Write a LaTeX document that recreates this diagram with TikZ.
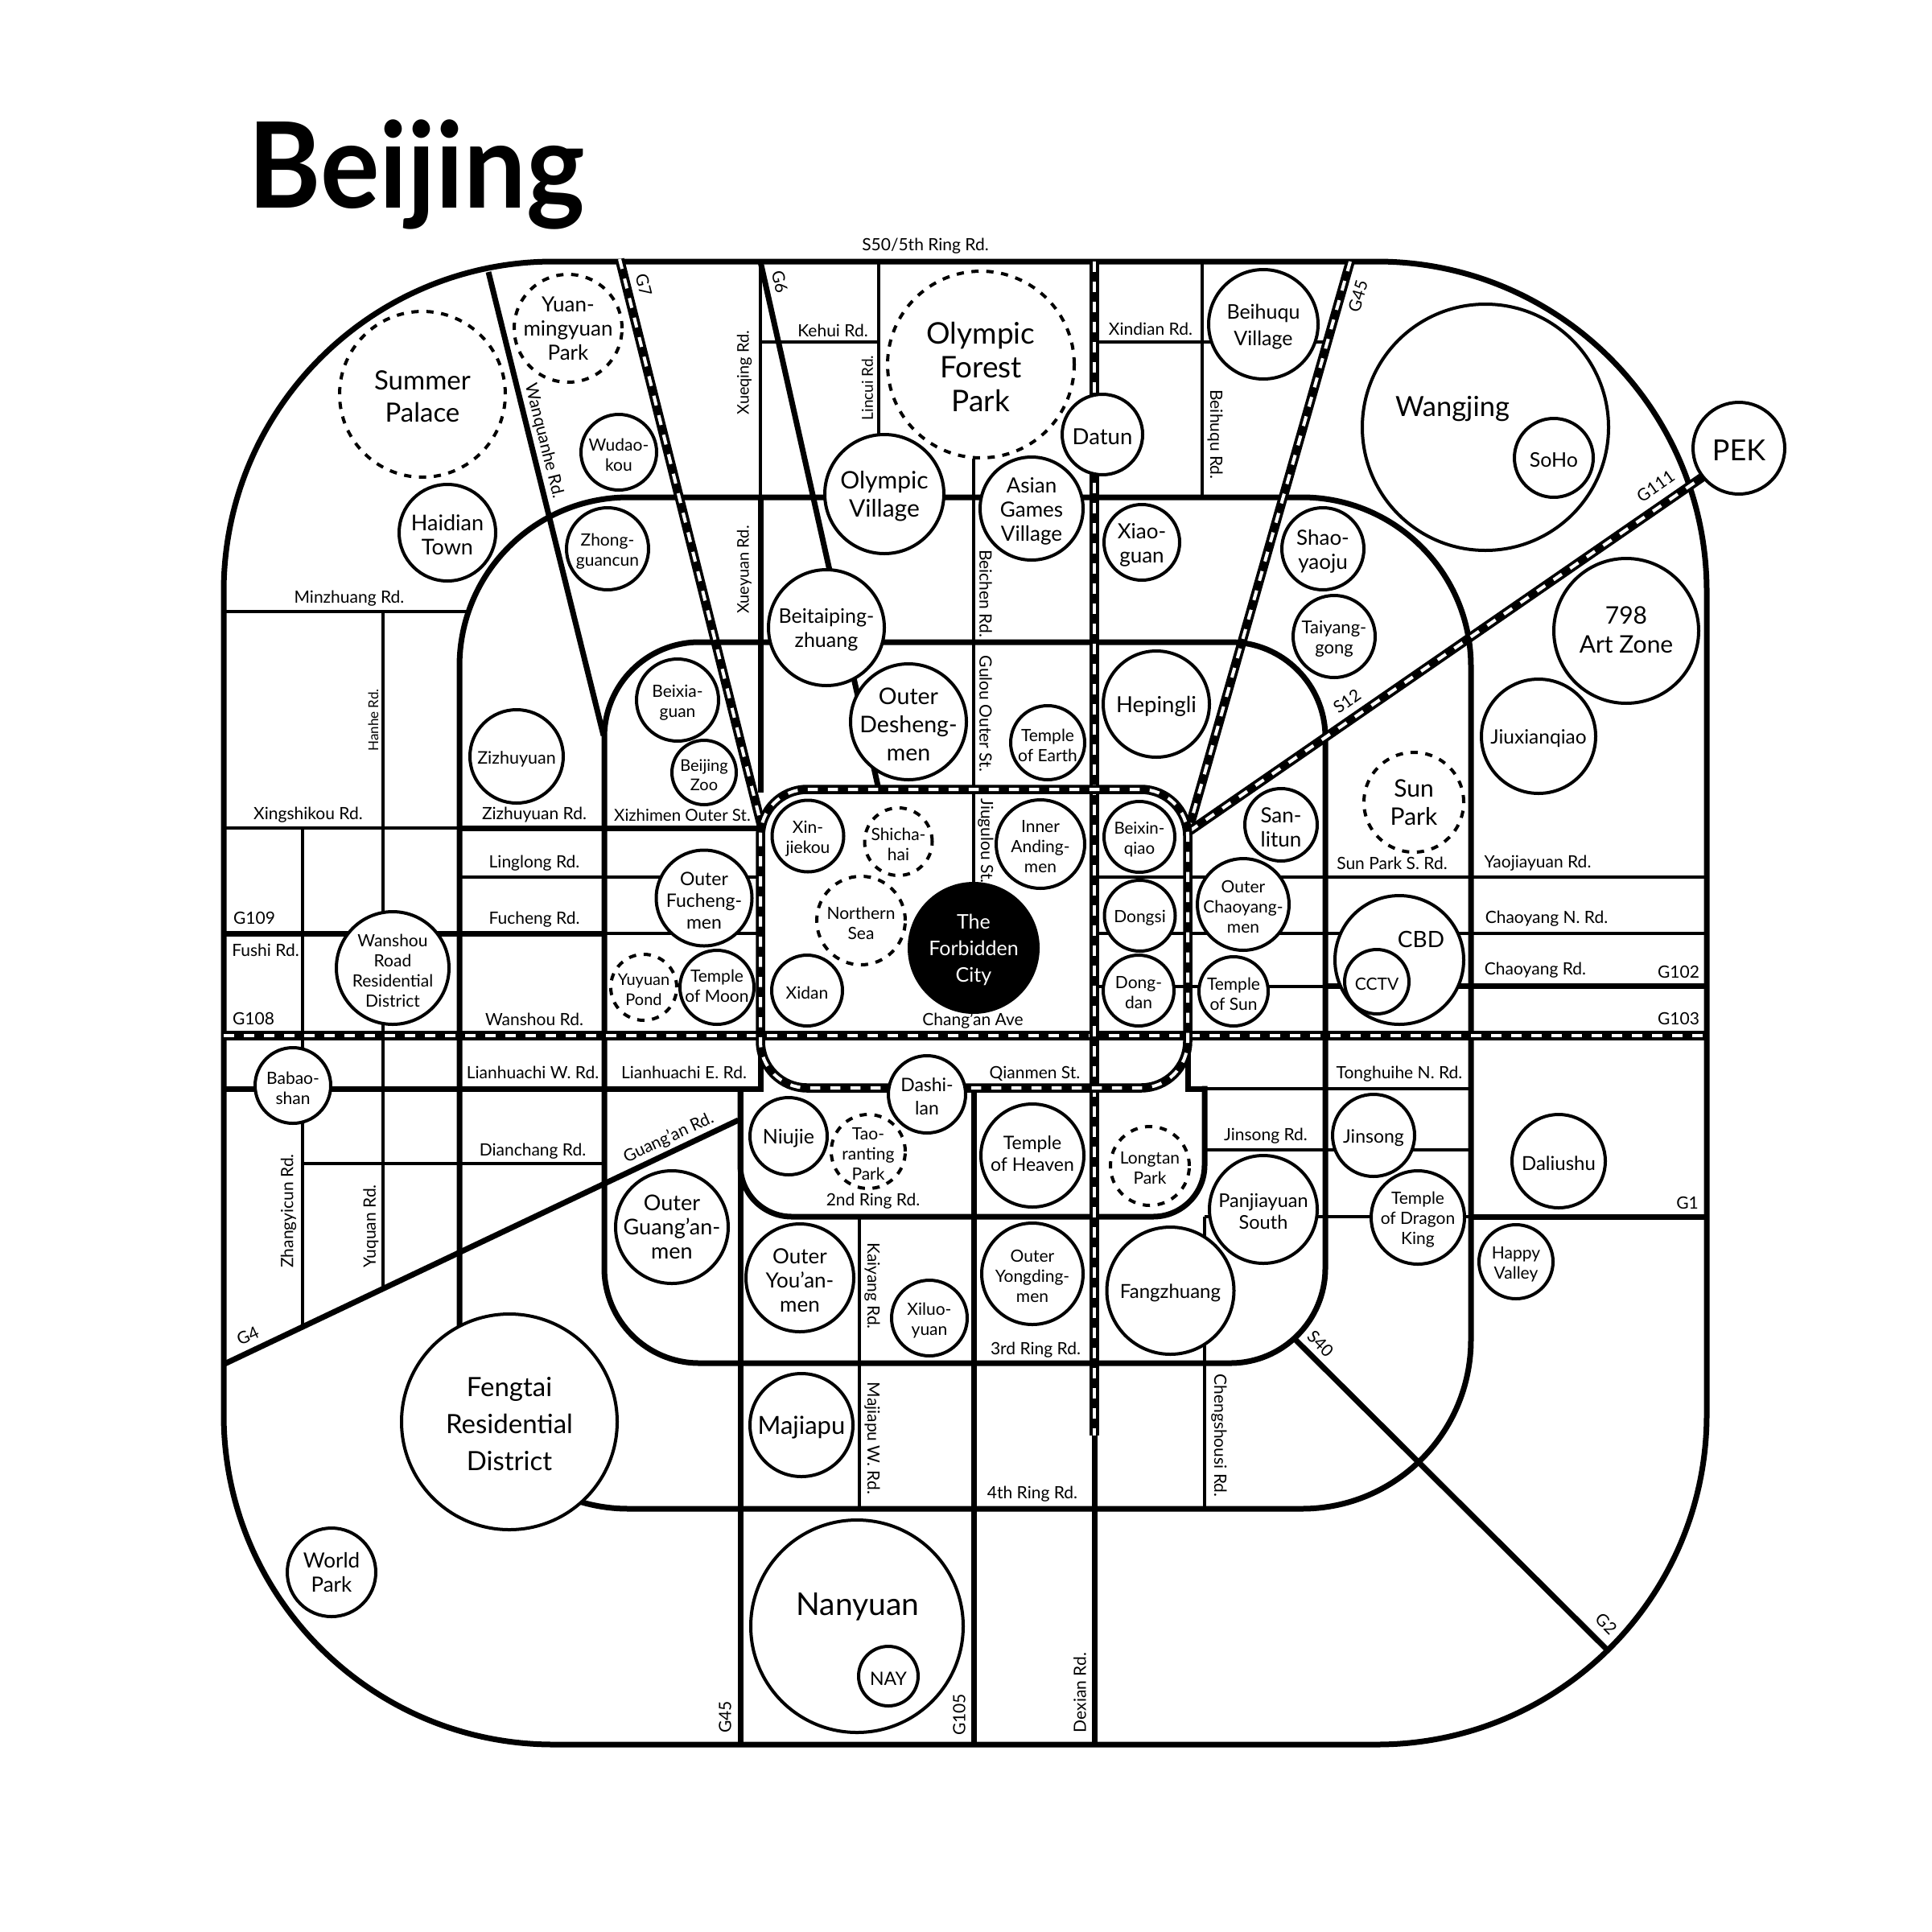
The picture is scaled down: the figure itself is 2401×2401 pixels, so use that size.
\documentclass[tikz,border=0pt]{standalone}
\usepackage{fontspec}
\setmainfont{Lato}
\newfontfamily\titlef[FakeStretch=0.93]{Lato}
\tikzset{
  x=1pt,y=-1pt,
  thinroad/.style={line width=4,black},
  road/.style={line width=7,black},
  ringroad/.style={line width=7,black},
  rail/.style={preaction={draw=black,solid,line width=11.5},draw=white,line width=4,dash pattern=on 12.5 off 12.5},
  place/.style={circle,draw=black,fill=white,line width=4,inner sep=0,outer sep=0},
  park/.style={place,dash pattern=on 9 off 9.5},
  roadlab/.style={inner sep=0,font=\fontsize{21}{24}\selectfont}
}
\def\lyv{-3}
\newcommand{\Sh}[1]{\def\lyv{#1}}
\newcommand{\Cx}[7][]{\node[place,minimum size={2*#4},#1,label={[inner sep=0,yshift=\lyv pt,align=center,font=\fontsize{#5}{#6}\selectfont]center:{#7}}] (#2) at (#3) {};\def\lyv{-3}}
\newcommand{\Rd}[5][0]{\node[roadlab,rotate=#1] (#2) at (#3,#4) {#5};}
\begin{document}
\begin{tikzpicture}
\path[use as bounding box,fill=white] (0,0) rectangle (2401,2401);
% thin roads
\draw[thinroad] (278,760)--(580,760);
\draw[thinroad] (476,760)--(476,1601);
\draw[thinroad] (376,1029)--(376,1649);
\draw[thinroad] (278,1029)--(571,1029);
\draw[thinroad] (571,1090)--(945,1090);
\draw[thinroad] (751,1160)--(945,1160);
\draw[thinroad] (377,1446)--(751,1446);
\draw[thinroad] (945,425)--(1092,425);
\draw[thinroad] (945,325)--(945,618);
\draw[thinroad] (1092,325)--(1092,545);
\draw[thinroad] (1210,570)--(1210,1100);
\draw[thinroad] (1360,425)--(1648,425);
\draw[thinroad] (1494,325)--(1494,618);
\draw[thinroad] (1360,1090)--(2121,1090);
\draw[thinroad] (1360,1160)--(2121,1160);
\draw[thinroad] (1360,1225.5)--(1647,1225.5);
\draw[thinroad] (1497,1353)--(1828,1353);
\draw[thinroad] (1497,1429)--(1828,1429);
\draw[thinroad] (1497,1512)--(1828,1512);
\draw[thinroad] (1497,1512)--(1497,1875);
\draw[thinroad] (1068,1512)--(1068,1875);
% thick roads
\draw[road] (571,1029)--(945,1029);
\draw[road] (278,1160)--(751,1160);
\draw[road] (278,1353)--(948.5,1353);
\draw[road] (945,618)--(945,985);
\draw[road] (945,1287)--(945,1353);
\draw[road] (1476,1287)--(1476,1353)--(1497,1353);
\draw[road] (945,325)--(1092,981);
\draw[road] (1647,1225.5)--(2121,1225.5);
\draw[road] (1828,1512)--(2121,1512);
\draw[road] (920,1353)--(920,2168);
\draw[road] (1210,1353)--(1210,2168);
\draw[road] (1360,1784)--(1360,2168);
\draw[road] (607,338)--(750,914);
\draw[road] (279,1695)--(917.6,1392);
\draw[road] (1609,1664)--(1996,2049);
% ring roads
\draw[ringroad,rounded corners=410] (278,325) rectangle (2121,2168);
\draw[ringroad,rounded corners=210] (571,618) rectangle (1828,1875);
\draw[ringroad,rounded corners=118] (751,798) rectangle (1647,1694);
\draw[ringroad,rounded corners=64] (920,1353)--(920,1512)--(1497,1512)--(1497,1349.5);
% rails
\draw[rail] (278,1287)--(2121,1287);
\draw[rail] (1360,325)--(1360,1784);
\draw[rail] (770,322)--(946,1025);
\draw[rail] (1678,325)--(1478,1028);
\draw[rail] (1478,1033)--(2117,592);
\draw[rail,rounded corners=58] (945,981) rectangle (1476,1352);
% places
\Cx[park]{summer}{525,490}{103}{33}{40}{Summer\\Palace}
\Sh{0}\Cx[park]{yuanming}{706,408}{67}{26}{30}{Yuan-\\mingyuan\\Park}
\Cx{wudaokou}{769,562}{47}{21}{25}{Wudao-\\kou}
\Cx{haidian}{556,662}{60}{27}{30}{Haidian\\Town}
\Cx{zhong}{755,682}{51}{21}{25}{Zhong-\\guancun}
\Cx{beixia}{842,870}{51}{21}{25}{Beixia-\\guan}
\Cx{zoo}{875,960}{40}{20}{24}{Beijing\\Zoo}
\Cx{zizhu}{642,940}{58}{21.5}{25}{Zizhuyuan}
\Cx[park]{forest}{1219,453}{116}{37}{42}{Olympic\\Forest\\Park}
\Cx{ovillage}{1099,614}{74}{30}{35}{Olympic\\Village}
\Cx{asian}{1282,632}{64}{26}{30}{Asian\\Games\\Village}
\Cx{datun}{1370,540}{50}{27.5}{34}{Datun}
\Cx{beihuqu}{1570,403}{68}{25}{33}{Beihuqu\\Village}
\Cx{xiaoguan}{1419,674}{47}{26}{30}{Xiao-\\guan}
\Cx{beitai}{1027,780}{72}{25}{30}{Beitaiping-\\zhuang}
\Cx{desheng}{1129,897}{72}{28.5}{35}{Outer\\Desheng-\\men}
\Cx{earth}{1302,923}{46}{21}{25}{Temple\\of Earth}
\Cx{hepingli}{1437,875}{66}{27.5}{32}{Hepingli}
\Cx{wangjing}{1846,531}{153}{1}{1}{}
\node[inner sep=0,font=\fontsize{34.5}{38}\selectfont] (wangjingt) at (1805,508) {Wangjing};
\Cx{soho}{1931,569}{49}{25}{26}{SoHo}
\Cx{pek}{2161,557}{57}{36}{42}{PEK}
\Sh{1.5}\Cx{art}{2021,784}{90}{30}{36}{798\\Art Zone}
\Cx{jiuxian}{1912,915}{71}{24.5}{25}{Jiuxianqiao}
\Cx{shao}{1644,682}{51}{26}{30}{Shao-\\yaoju}
\Cx{taiyang}{1658,791}{51}{22}{25}{Taiyang-\\gong}
\Sh{0}\Cx[park]{sunpark}{1757,997}{62}{30}{35}{Sun\\Park}
\Cx{sanlitun}{1592,1025}{45}{26}{30}{San-\\litun}
\Cx{chaoyangmen}{1545,1124}{57}{21}{25}{Outer\\Chaoyang-\\men}
\Cx{cbd}{1739,1193}{80}{1}{1}{}
\node[inner sep=0,font=\fontsize{28}{32}\selectfont] (cbdt) at (1766,1167) {CBD};
\Cx{cctv}{1711,1220}{40}{21}{25}{CCTV}
\Cx{tsun}{1533,1232}{43}{21}{25}{Temple\\of Sun}
\Cx{jinsong}{1707,1411}{51}{23}{28}{Jinsong}
\Cx{panjia}{1570,1503}{67}{23.5}{27}{Panjiayuan\\South}
\Cx{dragon}{1762,1513}{58}{21}{25}{Temple\\of Dragon\\King}
\Cx{daliushu}{1937,1443}{58}{24}{28}{Daliushu}
\Cx{happy}{1884,1568}{46}{21}{25}{Happy\\Valley}
\Cx{xinjiekou}{1004,1039}{44.5}{21}{25}{Xin-\\jiekou}
\Cx[park]{shicha}{1116.5,1046}{42}{21}{25}{Shicha-\\hai}
\Cx[park]{northsea}{1070,1144}{55}{21}{25}{Northern\\Sea}
\Cx[fill=black]{forbidden}{1210,1178}{80}{1}{1}{}
\node[inner sep=0,text=white,align=center,font=\fontsize{25}{33}\selectfont] (forbiddent) at (1210,1180) {The\\Forbidden\\City};
\Cx{anding}{1293,1049}{55}{21}{25}{Inner\\Anding-\\men}
\Cx{beixin}{1416,1040}{44}{20.5}{25}{Beixin-\\qiao}
\Cx{dongsi}{1416.5,1138}{44}{21}{25}{Dongsi}
\Cx{dongdan}{1415,1231}{44}{21}{25}{Dong-\\dan}
\Cx{xidan}{1003,1231}{44}{21}{25}{Xidan}
\Cx{dashilan}{1152,1360}{48}{23}{29}{Dashi-\\lan}
\Cx{niujie}{980,1412}{48}{25}{29}{Niujie}
\Cx[park]{taoran}{1079,1431}{46}{21}{25}{Tao-\\ranting\\Park}
\Sh{2}\Cx{heaven}{1283,1436}{64}{23}{27}{Temple\\of Heaven}
\Cx[park]{longtan}{1429,1449}{49}{21}{25}{Longtan\\Park}
\Cx{youan}{994,1588}{67}{26}{30}{Outer\\You'an-\\men}
\Cx{yongding}{1283,1583}{63}{21}{25}{Outer\\Yongding-\\men}
\Cx{xiluo}{1155,1638}{47}{21}{25}{Xiluo-\\yuan}
\Cx{fangzhuang}{1454.5,1604}{79}{24}{28}{Fangzhuang}
\Cx{majiapu}{996,1771}{64}{31}{32}{Majiapu}
\Cx{nanyuan}{1065,2021}{132}{1}{1}{}
\node[inner sep=0,font=\fontsize{39}{42}\selectfont] (nanyuant) at (1066,1997) {Nanyuan};
\Cx{nay}{1104,2083}{37}{23}{26}{NAY}
\Cx{fengtai}{633,1767}{134}{33}{46}{Fengtai\\Residential\\District}
\Sh{0}\Cx{world}{412,1954}{55}{26}{30}{World\\Park}
\Cx{wanshou}{488,1203}{70}{21}{25}{Wanshou\\Road\\Residential\\District}
\Cx{babao}{364,1349}{47}{21}{25}{Babao-\\shan}
\Cx{fucheng}{875,1116}{59.5}{23}{27}{Outer\\Fucheng-\\men}
\Sh{2}\Cx{tmoon}{891,1227}{46}{21}{25}{Temple\\of Moon}
\Cx[park]{yuyuan}{800,1227}{41}{20}{25}{Yuyuan\\Pond}
\Sh{0}\Cx{guangan}{835,1525}{70}{27}{30}{Outer\\Guang'an-\\men}
% road labels
\Rd[-76]{rwanq}{676}{548}{Wanquanhe Rd.}
\Rd[-76]{rg7}{800}{354}{G7}
\Rd[90]{rxueq}{925}{463}{\fontsize{20}{24}\selectfont Xueqing Rd.}
\Rd[90]{rxuey}{925}{708}{\fontsize{20}{24}\selectfont Xueyuan Rd.}
\Rd{rminz}{434}{744}{Minzhuang Rd.}
\Rd[90]{rhanhe}{464}{895}{\fontsize{17}{20}\selectfont Hanhe Rd.}
\Rd{rs50}{1150}{306}{S50/5th Ring Rd.}
\Rd[-77]{rg6}{969}{350}{G6}
\Rd{rkehui}{1035}{411}{Kehui Rd.}
\Rd[90]{rlincui}{1078}{482}{\fontsize{19}{22}\selectfont Lincui Rd.}
\Rd{rxindian}{1430}{409}{Xindian Rd.}
\Rd[-90]{rbeihuqu}{1510}{540}{Beihuqu Rd.}
\Rd[-90]{rbeichen}{1225}{737.6}{Beichen Rd.}
\Rd[-90]{rgulou}{1225}{887}{Gulou Outer St.}
\Rd[74]{rg45a}{1687.5}{368}{G45}
\Rd[35]{rg111}{2057.5}{604.5}{G111}
\Rd[35]{rs12}{1674}{871.5}{S12}
\Rd{rxing}{383}{1013}{Xingshikou Rd.}
\Rd{rzizhu}{664}{1013}{Zizhuyuan Rd.}
\Rd{rxizhi}{848}{1013}{\fontsize{20.5}{24}\selectfont Xizhimen Outer St.}
\Rd{rlinglong}{664}{1073}{Linglong Rd.}
\Rd{rfucheng}{664}{1143}{Fucheng Rd.}
\Rd{rg109}{316}{1141}{G109}
\Rd{rfushi}{330}{1181}{Fushi Rd.}
\Rd{rg108}{315}{1266}{G108}
\Rd{rwanshou}{664}{1267}{Wanshou Rd.}
\Rd{rlianw}{662}{1333}{Lianhuachi W. Rd.}
\Rd{rliane}{850}{1333}{Lianhuachi E. Rd.}
\Rd{rdian}{662}{1431}{Dianchang Rd.}
\Rd[25]{rguang}{831}{1414}{Guang'an Rd.}
\Rd[90]{rzhang}{358.5}{1505}{Zhangyicun Rd.}
\Rd[90]{ryuquan}{461}{1524}{Yuquan Rd.}
\Rd[25]{rg4}{308}{1660}{G4}
\Rd[90]{rg45b}{901}{2134}{G45}
\Rd[-90]{rjiugulou}{1225}{1045}{Jiugulou St.}
\Rd{rchangan}{1209}{1268}{Chang'an Ave}
\Rd{rqianmen}{1286}{1334}{Qianmen St.}
\Rd{r2nd}{1085}{1493}{2nd Ring Rd.}
\Rd[-90]{rkaiyang}{1084}{1598}{Kaiyang Rd.}
\Rd{r3rd}{1287}{1678}{3rd Ring Rd.}
\Rd[-90]{rmajiapu}{1084}{1787.5}{Majiapu W. Rd.}
\Rd{r4th}{1283}{1857}{4th Ring Rd.}
\Rd[90]{rg105}{1192}{2131}{G105}
\Rd[90]{rdexian}{1342}{2103.5}{Dexian Rd.}
\Rd[-90]{rcheng}{1515}{1784}{Chengshousi Rd.}
\Rd{rsunpark}{1730}{1073}{Sun Park S. Rd.}
\Rd{ryaojia}{1911}{1073}{Yaojiayuan Rd.}
\Rd{rchaon}{1922}{1142}{Chaoyang N. Rd.}
\Rd{rchao}{1908}{1206}{Chaoyang Rd.}
\Rd{rg102}{2086}{1208}{G102}
\Rd{rg103}{2086}{1266}{G103}
\Rd{rtong}{1739}{1335}{Tonghuihe N. Rd.}
\Rd{rjinsong}{1573}{1412}{Jinsong Rd.}
\Rd{rg1}{2097}{1495}{G1}
\Rd[-45]{rs40}{1641}{1670}{S40}
\Rd[-45]{rg2}{1996}{2018}{G2}
% title
\node[anchor=base west,inner sep=0,font=\fontsize{148}{160}\titlef\bfseries] (title) at (308,258) {Beijing};
\end{tikzpicture}
\end{document}
